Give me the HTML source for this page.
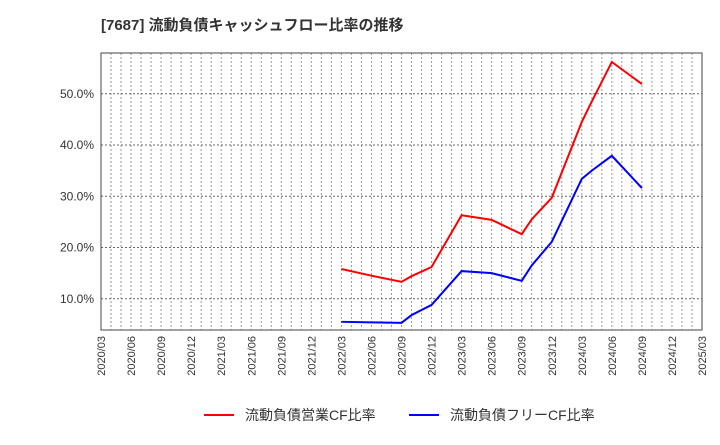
<!DOCTYPE html>
<html><head><meta charset="utf-8"><style>
body{margin:0;background:#fff;}
svg text{font-family:"Liberation Sans","Noto Sans CJK JP",sans-serif;}
</style></head><body>
<svg id="chart" width="720" height="440">
<text x="101" y="30" font-size="15" font-weight="bold" fill="#333">[7687]  流動負債キャッシュフロー比率の推移</text>
<g id="grid"></g>
<g id="series"></g>
<g id="axes"></g>
<g>
<line x1="204" y1="415" x2="234" y2="415" stroke="#f00" stroke-width="2"/>
<text x="245" y="420" font-size="14" fill="#333">流動負債営業CF比率</text>
<line x1="409" y1="415" x2="439" y2="415" stroke="#00f" stroke-width="2"/>
<text x="450" y="420" font-size="14" fill="#333">流動負債フリーCF比率</text>
</g>
</svg>
<script>
const tickLabels=["2020/03","2020/06","2020/09","2020/12","2021/03","2021/06","2021/09","2021/12","2022/03","2022/06","2022/09","2022/12","2023/03","2023/06","2023/09","2023/12","2024/03","2024/06","2024/09","2024/12","2025/03"];
const yTicks=[10,20,30,40,50];
const redMonths=["2022/03","2022/06","2022/09","2022/10","2022/12","2023/03","2023/06","2023/09","2023/10","2023/12","2024/03","2024/04","2024/06","2024/09"];
const redValues=[15.8,14.5,13.3,14.4,16.2,26.3,25.4,22.6,25.5,29.7,44.5,48.5,56.2,51.9];
const blueMonths=["2022/03","2022/06","2022/09","2022/10","2022/12","2023/03","2023/06","2023/09","2023/10","2023/12","2024/03","2024/04","2024/06","2024/09"];
const blueValues=[5.5,5.4,5.3,6.8,8.8,15.4,15.0,13.5,16.5,21.1,33.4,35.0,37.9,31.6];
const L=101,R=702,T=53,B=330;
function mi(s){const[a,b]=s.split("/").map(Number);return (a-2020)*12+(b-3);}
function X(s){return L+(R-L)*mi(s)/60;}
function Y(v){return 350-5.125*v;}
const ns="http://www.w3.org/2000/svg";
function mk(p,t,a){const e=document.createElementNS(ns,t);for(const k in a)e.setAttribute(k,a[k]);p.appendChild(e);return e;}
const grid=document.getElementById("grid"),axes=document.getElementById("axes"),ser=document.getElementById("series");
for(let m=1;m<60;m++){const x=L+(R-L)*m/60;
const g=mk(grid,"line",{x1:x,x2:x,y1:T,y2:B,stroke:"#999","stroke-dasharray":"2,2","stroke-width":1});

}
yTicks.forEach(v=>{const y=Y(v);
const g=mk(grid,"line",{x1:L,x2:R,y1:y,y2:y,stroke:"#666","stroke-dasharray":"2,2","stroke-width":1});


const t=mk(axes,"text",{x:L-7,y:y+4,"font-size":12,"text-anchor":"end",fill:"#333"});t.textContent=v.toFixed(1)+"%";

});
tickLabels.forEach(s=>{const x=X(s);
const t=mk(axes,"text",{x:0,y:0,"font-size":11,"text-anchor":"end",fill:"#333",transform:`translate(${x+4},${B+6}) rotate(-90)`});t.textContent=s;

});
const fr=mk(axes,"rect",{x:L,y:T,width:R-L,height:B-T,fill:"none",stroke:"#444","stroke-width":1});


function line(ms,vs,c,n){const p=mk(ser,"polyline",{points:ms.map((m,i)=>X(m)+","+Y(vs[i])).join(" "),fill:"none",stroke:c,"stroke-width":2});

}
line(redMonths,redValues,"#f00","operating-cf-line");
line(blueMonths,blueValues,"#00f","free-cf-line");
</script>
</body></html>
